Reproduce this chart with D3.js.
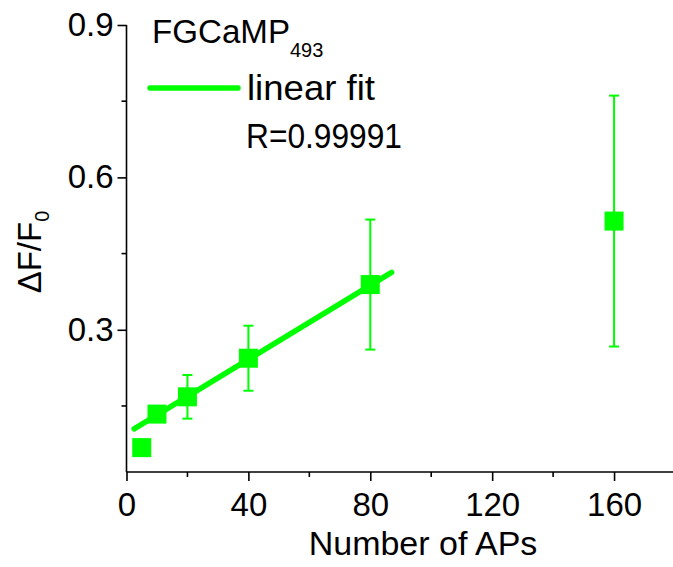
<!DOCTYPE html>
<html>
<head>
<meta charset="utf-8">
<script src="https://d3js.org/d3.v7.min.js"></script>
<style>
  body { margin: 0; background: #fff; }
  text { font-family: "Liberation Sans", Arial, sans-serif; fill: #000; }
</style>
</head>
<body>
<div id="chart"></div>
<script>
// data
var aps = [5, 10, 20, 40, 80, 160];
var dff = [0.068, 0.134, 0.168, 0.244, 0.389, 0.514];
var errs = [0.0, 0.015, 0.043, 0.064, 0.128, 0.247];
var fitX = [2.5, 87];
var fitSlope = 0.003645;
var fitIntercept = 0.0959;
var xTicks = [0, 40, 80, 120, 160];
var xMinor = [20, 60, 100, 140];
var yTicks = [0.3, 0.6, 0.9];
var yMinor = [0.15, 0.45, 0.75];

var svgWidth = 673;
var svgHeight = 567;
var green = "#00ff00";

var svg = d3.select("#chart")
  .append("svg")
  .attr("width", svgWidth)
  .attr("height", svgHeight);

var x = d3.scaleLinear().domain([0, 180]).range([126.5, 675]);
var y = d3.scaleLinear().domain([0.02, 0.9]).range([472, 25]);

// axes
var xAxis = d3.axisBottom(x).tickValues(xTicks).tickSize(9).tickPadding(4).tickFormat(d3.format("d"));
var yAxis = d3.axisLeft(y).tickValues(yTicks).tickSize(9).tickPadding(4).tickFormat(d3.format(".1f"));

var gx = svg.append("g")
  .attr("transform", "translate(0,472)")
  .call(xAxis);
gx.selectAll(".minor").data(xMinor).enter()
  .append("g").attr("class", "minor")
  .attr("transform", d => `translate(${x(d)},0)`)
  .append("line").attr("y2", 5).attr("stroke", "#000").attr("stroke-width", 1.6);

var gy = svg.append("g")
  .attr("transform", "translate(126.5,0)")
  .call(yAxis);
gy.selectAll(".minor").data(yMinor).enter()
  .append("g").attr("class", "minor")
  .attr("transform", d => `translate(0,${y(d)})`)
  .append("line").attr("x2", -5).attr("stroke", "#000").attr("stroke-width", 1.6);

svg.selectAll(".domain").attr("stroke-width", 1.6);
gx.select(".domain").attr("d", "M126.5,0H675");
gy.select(".domain").attr("d", "M0,472V25");
svg.selectAll(".tick line").attr("stroke-width", 1.6);
svg.selectAll(".tick text").attr("font-size", 33).attr("fill", "#000")
  .attr("font-family", "Liberation Sans, Arial, sans-serif");
gx.selectAll(".tick text").attr("dy", "0.95em");

// axis titles
svg.append("text")
  .attr("x", 423)
  .attr("y", 555)
  .attr("text-anchor", "middle")
  .attr("font-size", 34)
  .text("Number of APs");

var yt = svg.append("text")
  .attr("transform", "translate(41,252) rotate(-90)")
  .attr("text-anchor", "middle")
  .attr("font-size", 33);
yt.append("tspan").text("\u0394F/F");
yt.append("tspan").attr("font-size", 20).attr("dy", 8).text("0");

// linear fit
var fitLine = d3.line()
  .x(d => x(d))
  .y(d => y(fitIntercept + fitSlope * d));
svg.append("path")
  .datum(fitX)
  .attr("d", fitLine)
  .attr("fill", "none")
  .attr("stroke", green)
  .attr("stroke-width", 5.5)
  .attr("stroke-linecap", "round");

// error bars
var pts = aps.map((a, i) => ({ x: a, y: dff[i], e: errs[i] }));
var eb = svg.selectAll(".err").data(pts.filter(d => d.e > 0)).enter()
  .append("g").attr("class", "err")
  .attr("stroke", green).attr("stroke-width", 2);
eb.append("line")
  .attr("x1", d => x(d.x)).attr("x2", d => x(d.x))
  .attr("y1", d => y(d.y - d.e)).attr("y2", d => y(d.y + d.e));
eb.append("line")
  .attr("x1", d => x(d.x) - 5).attr("x2", d => x(d.x) + 5)
  .attr("y1", d => y(d.y + d.e)).attr("y2", d => y(d.y + d.e));
eb.append("line")
  .attr("x1", d => x(d.x) - 5).attr("x2", d => x(d.x) + 5)
  .attr("y1", d => y(d.y - d.e)).attr("y2", d => y(d.y - d.e));

// markers
var sq = 19;
svg.selectAll(".pt").data(pts).enter()
  .append("rect").attr("class", "pt")
  .attr("x", d => x(d.x) - sq / 2)
  .attr("y", d => y(d.y) - sq / 2)
  .attr("width", sq).attr("height", sq)
  .attr("fill", green);

// legend
var lg = svg.append("text").attr("x", 152).attr("y", 43).attr("font-size", 34);
lg.append("tspan").attr("textLength", 138).attr("lengthAdjust", "spacingAndGlyphs").text("FGCaMP");
lg.append("tspan").attr("font-size", 20).attr("dy", 14).text("493");

svg.append("line")
  .attr("x1", 150).attr("x2", 238)
  .attr("y1", 88).attr("y2", 88)
  .attr("stroke", green).attr("stroke-width", 5.5)
  .attr("stroke-linecap", "round");
svg.append("text").attr("x", 247).attr("y", 100).attr("font-size", 35)
  .attr("textLength", 128).attr("lengthAdjust", "spacingAndGlyphs").text("linear fit");
svg.append("text").attr("x", 246).attr("y", 148).attr("font-size", 35)
  .attr("textLength", 156).attr("lengthAdjust", "spacingAndGlyphs").text("R=0.99991");
</script>
</body>
</html>
